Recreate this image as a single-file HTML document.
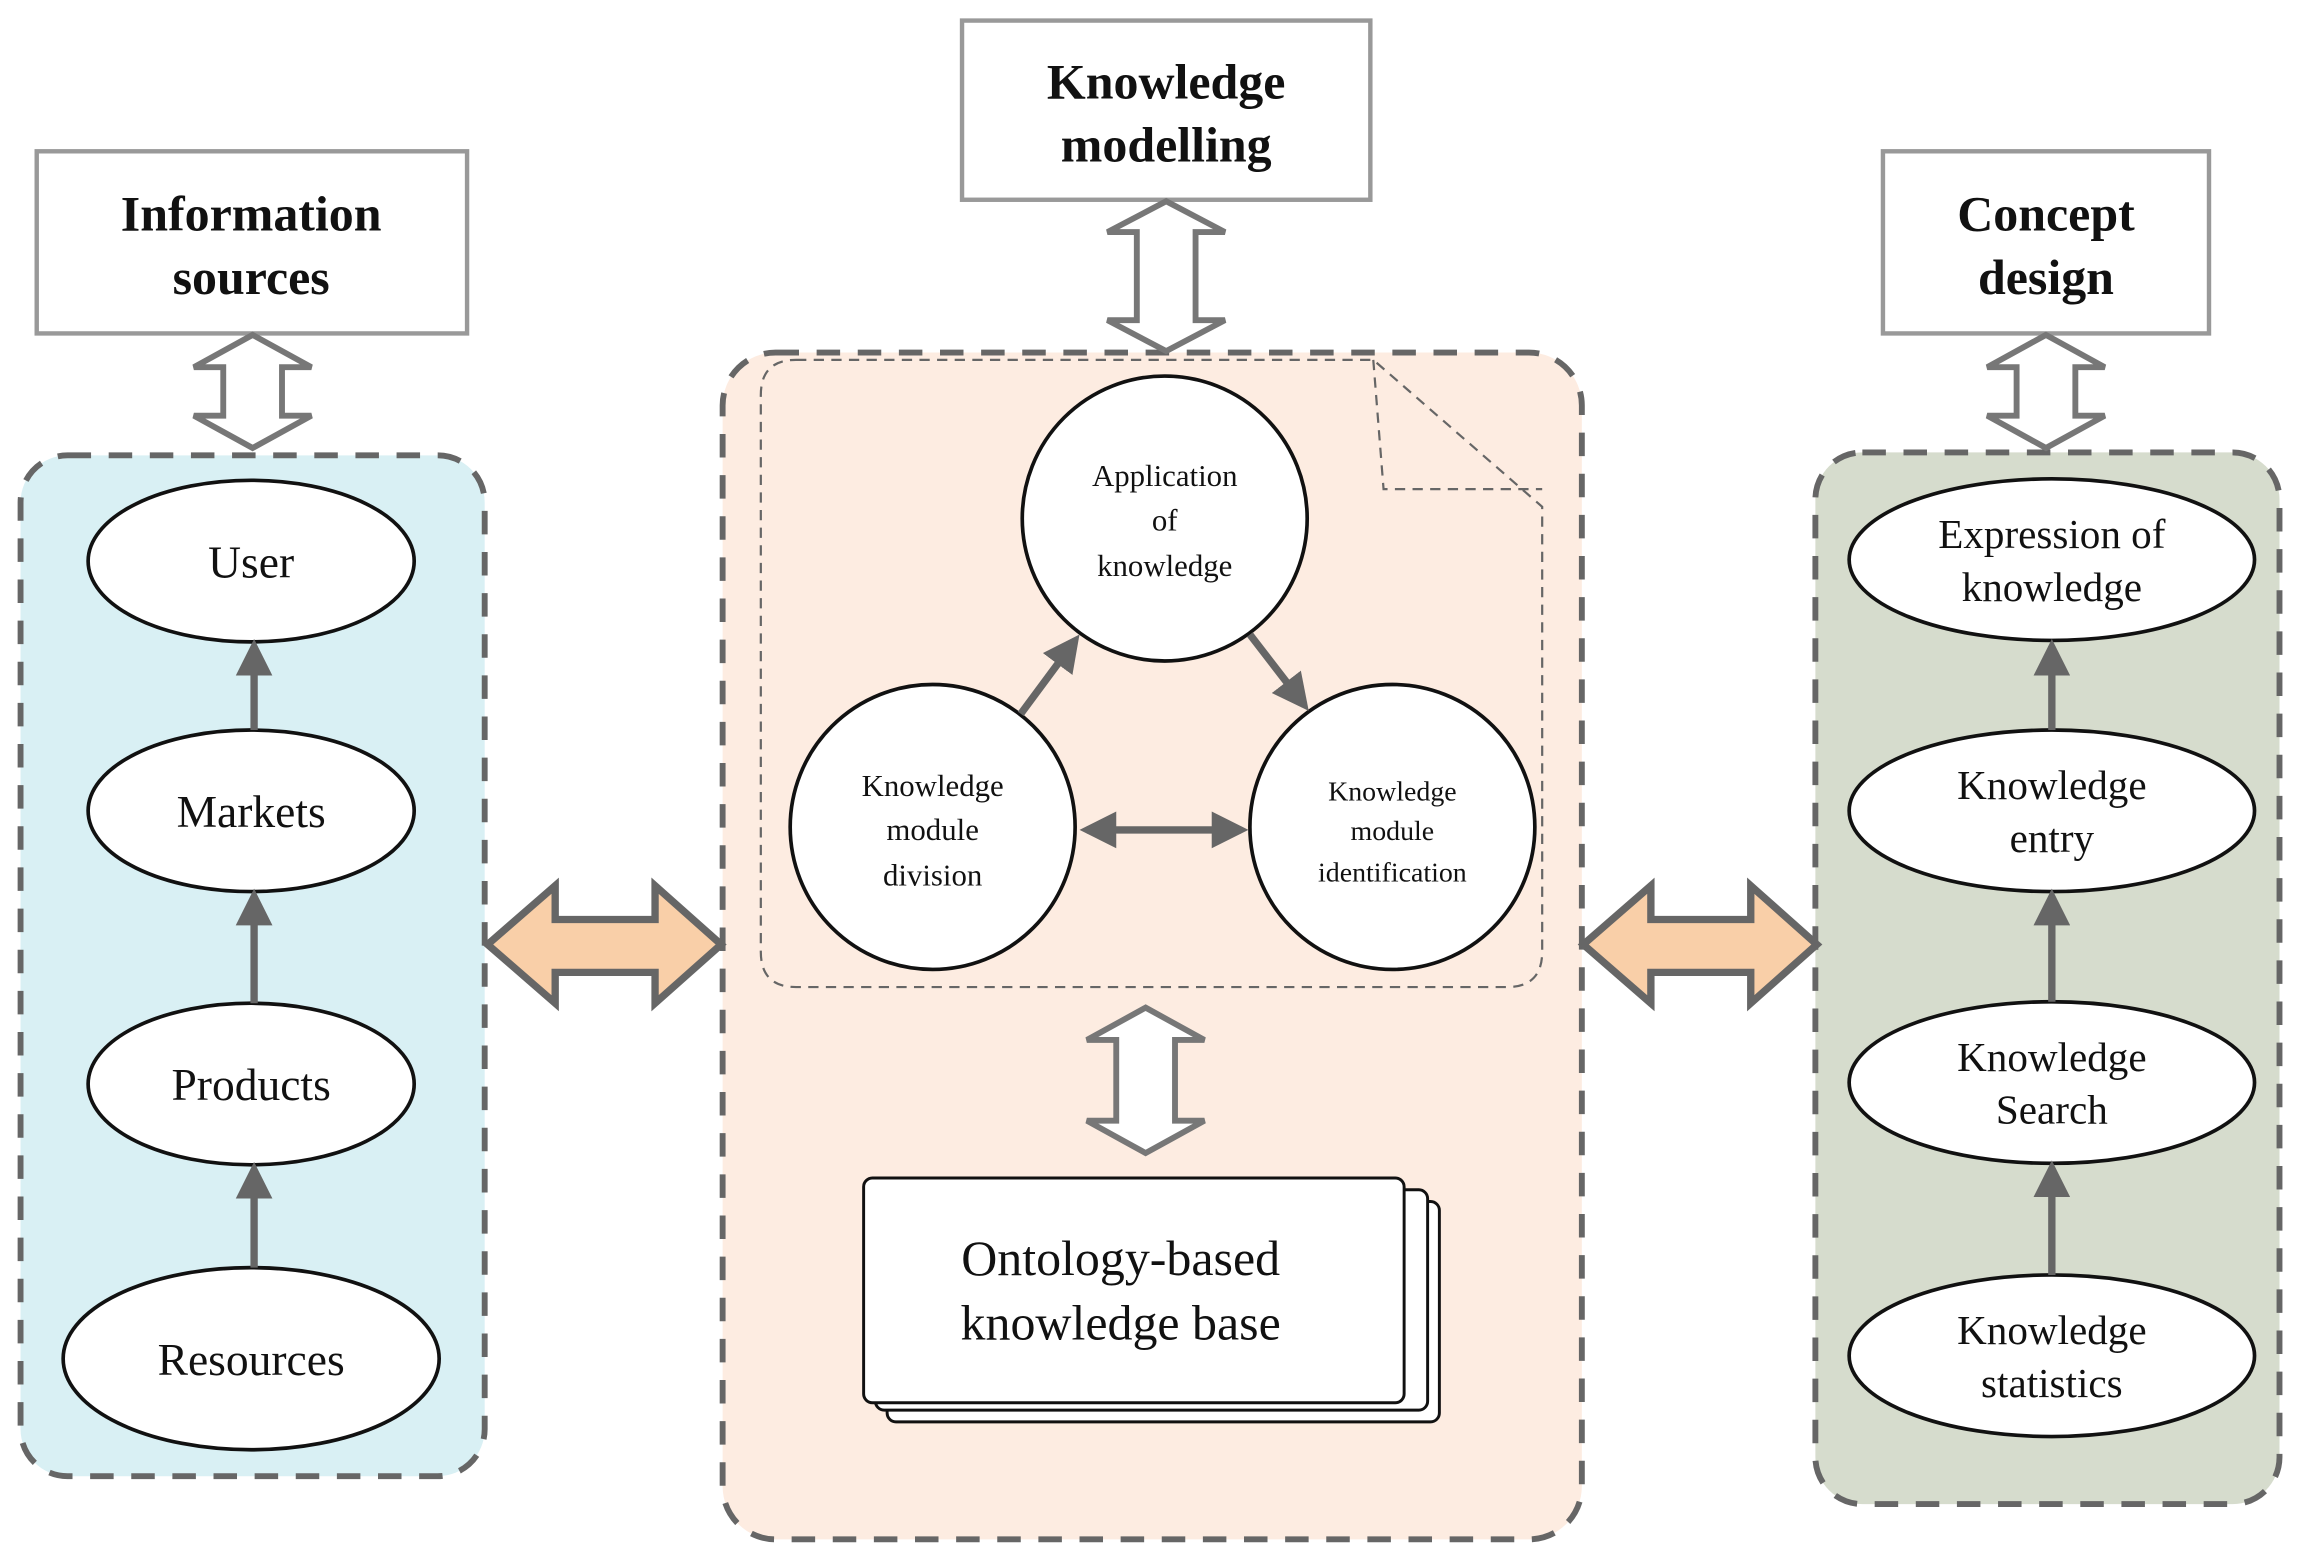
<!DOCTYPE html>
<html><head><meta charset="utf-8"><style>
html,body{margin:0;padding:0;background:#fff;}
svg{display:block;}
text{font-family:"Liberation Serif",serif;fill:#111;text-anchor:middle;}
.b{font-weight:bold;font-size:34px;}
.e{font-size:31px;}
.c{font-size:21px;}
</style></head><body>
<svg width="2303" height="1568" viewBox="0 0 1568 1067.5" preserveAspectRatio="none" xmlns="http://www.w3.org/2000/svg">
<defs>
<marker id="ah" viewBox="0 0 10 10" refX="8" refY="5" markerWidth="5" markerHeight="5" orient="auto-start-reverse"><path d="M0,0 L10,5 L0,10 z" fill="#666"/></marker>
</defs>
<rect x="25" y="103" width="293" height="124" fill="#fff" stroke="#999" stroke-width="3"/>
<text class="b" x="171" y="157">Information</text><text class="b" x="171" y="200">sources</text>
<rect x="655" y="14" width="278" height="122" fill="#fff" stroke="#999" stroke-width="3"/>
<text class="b" x="794" y="67">Knowledge</text><text class="b" x="794" y="110">modelling</text>
<rect x="1282" y="103" width="222" height="124" fill="#fff" stroke="#999" stroke-width="3"/>
<text class="b" x="1393" y="157">Concept</text><text class="b" x="1393" y="200">design</text>
<rect x="14" y="310" width="316" height="695" rx="32" fill="#d9f0f4" stroke="#666" stroke-width="4" stroke-dasharray="16 12"/>
<rect x="492" y="240" width="585" height="808" rx="36" fill="#fdece1" stroke="#666" stroke-width="4" stroke-dasharray="16 12"/>
<rect x="1236" y="308" width="316" height="716" rx="32" fill="#d6dccd" stroke="#666" stroke-width="4" stroke-dasharray="16 12"/>
<g fill="#fff" stroke="#777" stroke-width="4" stroke-linejoin="miter">
<path d="M172,228 L212,250 L192,250 L192,283 L212,283 L172,305 L132,283 L152,283 L152,250 L132,250 Z"/>
<path d="M794,137 L834,158 L814,158 L814,218 L834,218 L794,239 L754,218 L774,218 L774,158 L754,158 Z"/>
<path d="M1393,228 L1433,250 L1413,250 L1413,283 L1433,283 L1393,305 L1353,283 L1373,283 L1373,250 L1353,250 Z"/>
<path d="M780,686 L820,708 L800,708 L800,763 L820,763 L780,785 L740,763 L760,763 L760,708 L740,708 Z"/>
</g>
<g fill="#f9cfa8" stroke="#666" stroke-width="5" stroke-linejoin="miter">
<path d="M332,643 L378,603 L378,626 L446,626 L446,603 L491,643 L446,683 L446,662 L378,662 L378,683 Z"/>
<path d="M1078,643 L1124,603 L1124,626 L1192,626 L1192,603 L1237,643 L1192,683 L1192,662 L1124,662 L1124,683 Z"/>
</g>
<path d="M542,245 L935,245 L1050,345 L1050,648 Q1050,672 1026,672 L542,672 Q518,672 518,648 L518,269 Q518,245 542,245 Z" fill="none" stroke="#666" stroke-width="1.5" stroke-dasharray="7 5"/>
<path d="M935,245 L942,333 L1050,333" fill="none" stroke="#666" stroke-width="1.5" stroke-dasharray="7 5"/>
<g fill="#fff" stroke="#111" stroke-width="2.5">
<ellipse cx="171" cy="382" rx="111" ry="55"/>
<ellipse cx="171" cy="552" rx="111" ry="55"/>
<ellipse cx="171" cy="738" rx="111" ry="55"/>
<ellipse cx="171" cy="925" rx="128" ry="62"/>
<ellipse cx="1397" cy="381" rx="138" ry="55"/>
<ellipse cx="1397" cy="552" rx="138" ry="55"/>
<ellipse cx="1397" cy="737" rx="138" ry="55"/>
<ellipse cx="1397" cy="923" rx="138" ry="55"/>
<circle cx="793" cy="353" r="97"/>
<circle cx="635" cy="563" r="97"/>
<circle cx="948" cy="563" r="97"/>
</g>
<g stroke="#666" stroke-width="5" fill="none" marker-end="url(#ah)">
<line x1="173" y1="497" x2="173" y2="440"/>
<line x1="173" y1="683" x2="173" y2="610"/>
<line x1="173" y1="863" x2="173" y2="796"/>
<line x1="1397" y1="497" x2="1397" y2="440"/>
<line x1="1397" y1="682" x2="1397" y2="610"/>
<line x1="1397" y1="868" x2="1397" y2="795"/>
<line x1="695" y1="486" x2="732" y2="436"/>
<line x1="851" y1="432" x2="888" y2="480"/>
<line x1="740" y1="565" x2="845" y2="565" marker-start="url(#ah)"/>
</g>
<g fill="#fff" stroke="#111" stroke-width="2">
<rect x="604" y="818" width="376" height="150" rx="6"/>
<rect x="596" y="810" width="376" height="150" rx="6"/>
<rect x="588" y="802" width="368" height="153" rx="6"/>
</g>
<text x="763" y="868" style="font-size:34px">Ontology-based</text>
<text x="763" y="912" style="font-size:34px">knowledge base</text>
<text class="e" x="171" y="393">User</text>
<text class="e" x="171" y="563">Markets</text>
<text class="e" x="171" y="749">Products</text>
<text class="e" x="171" y="936">Resources</text>
<text x="1397" y="373" style="font-size:28px">Expression of</text><text x="1397" y="409" style="font-size:28px">knowledge</text>
<text x="1397" y="544" style="font-size:28px">Knowledge</text><text x="1397" y="580" style="font-size:28px">entry</text>
<text x="1397" y="729" style="font-size:28px">Knowledge</text><text x="1397" y="765" style="font-size:28px">Search</text>
<text x="1397" y="915" style="font-size:28px">Knowledge</text><text x="1397" y="951" style="font-size:28px">statistics</text>
<text class="c" x="793" y="331">Application</text><text class="c" x="793" y="361">of</text><text class="c" x="793" y="392">knowledge</text>
<text class="c" x="635" y="542">Knowledge</text><text class="c" x="635" y="572">module</text><text class="c" x="635" y="603">division</text>
<text class="c" x="948" y="545" style="font-size:19px">Knowledge</text><text class="c" x="948" y="572" style="font-size:19px">module</text><text class="c" x="948" y="600" style="font-size:19px">identification</text>
</svg>
</body></html>
